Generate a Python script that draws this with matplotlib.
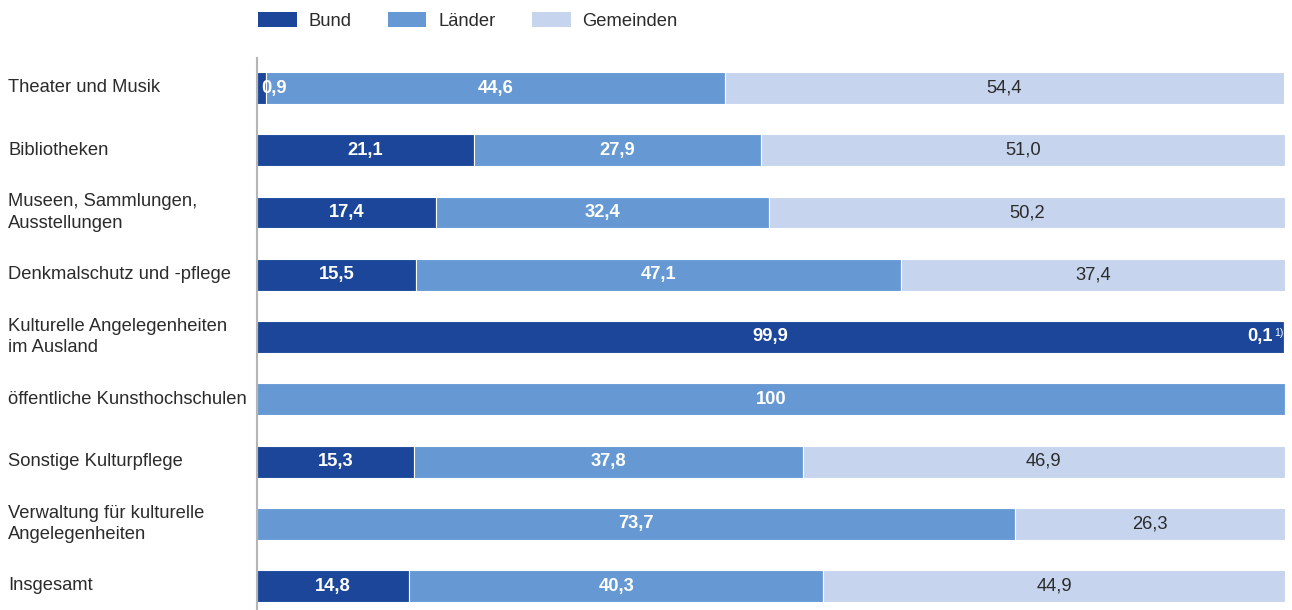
import matplotlib
matplotlib.use("Agg")
import matplotlib.pyplot as plt
from matplotlib.patches import Patch

plt.rcParams['font.family'] = ['Liberation Sans', 'DejaVu Sans']

categories = [
    "Theater und Musik",
    "Bibliotheken",
    "Museen, Sammlungen,\nAusstellungen",
    "Denkmalschutz und -pflege",
    "Kulturelle Angelegenheiten\nim Ausland",
    "öffentliche Kunsthochschulen",
    "Sonstige Kulturpflege",
    "Verwaltung für kulturelle\nAngelegenheiten",
    "Insgesamt",
]
series_names = ["Bund", "Länder", "Gemeinden"]
bund = [0.9, 21.1, 17.4, 15.5, 99.9, 0.0, 15.3, 0.0, 14.8]
laender = [44.6, 27.9, 32.4, 47.1, 0.1, 100.0, 37.8, 73.7, 40.3]
gemeinden = [54.4, 51.0, 50.2, 37.4, 0.0, 0.0, 46.9, 26.3, 44.9]
footnote_mark = "1)"

colors = ["#1b469a", "#6699d3", "#c6d4ee"]
text_dark = "#2b2b2b"

def fmt(v):
    if v == 100:
        return "100"
    return f"{v:.1f}".replace(".", ",")

fig = plt.figure(figsize=(12.92, 6.10), dpi=100)
W, H = 1292, 610
ax = fig.add_axes([257 / W, 0, 1028 / W, 552 / H])

row_h = 62.25
ax.set_ylim((610 - 88) / row_h, -30 / row_h)
ax.set_xlim(0, 100)
bar_h = 32 / row_h

fs = 13.2
y = list(range(len(categories)))
lefts = [0.0] * len(categories)
for s_i, (name, vals) in enumerate(zip(series_names, [bund, laender, gemeinden])):
    ax.barh(y, vals, left=lefts, height=bar_h, color=colors[s_i],
            edgecolor="white", linewidth=0.8, zorder=2)
    for i, v in enumerate(vals):
        if v <= 0:
            continue
        cx = lefts[i] + v / 2
        if s_i < 2:
            style = dict(color="white", fontweight="bold")
        else:
            style = dict(color=text_dark)
        if v < 1 and s_i == 0:
            ax.text(lefts[i] + 0.45, i, fmt(v), ha="left", va="center",
                    fontsize=fs, zorder=3, **style)
        elif v < 1 and s_i == 1:
            ax.text(98.8, i, fmt(v), ha="right", va="center",
                    fontsize=fs, zorder=3, **style)
            ax.text(98.95, i - 0.07, footnote_mark, ha="left", va="center",
                    fontsize=7.5, zorder=3, color="white")
        else:
            ax.text(cx, i, fmt(v), ha="center", va="center",
                    fontsize=fs, zorder=3, **style)
    lefts = [l + v for l, v in zip(lefts, vals)]

for i, c in enumerate(categories):
    ax.text(-249 / 1028, i, c, transform=ax.get_yaxis_transform(),
            ha="left", va="center", fontsize=fs, color=text_dark,
            linespacing=1.32)

for sp in ["top", "right", "bottom"]:
    ax.spines[sp].set_visible(False)
ax.spines["left"].set_color("#b5b5b5")
ax.spines["left"].set_linewidth(1.5)
ax.set_xticks([])
ax.set_yticks([])

handles = [Patch(facecolor=c, edgecolor="none") for c in colors]
fig.legend(handles, series_names, loc="center left",
           bbox_to_anchor=(258 / W, 1 - 21 / H), ncol=3, frameon=False,
           fontsize=fs, handlelength=2.1, handleheight=0.89,
           handletextpad=0.64, columnspacing=2.0, borderpad=0,
           borderaxespad=0, labelcolor=text_dark)

fig.savefig("out.png", dpi=100)
